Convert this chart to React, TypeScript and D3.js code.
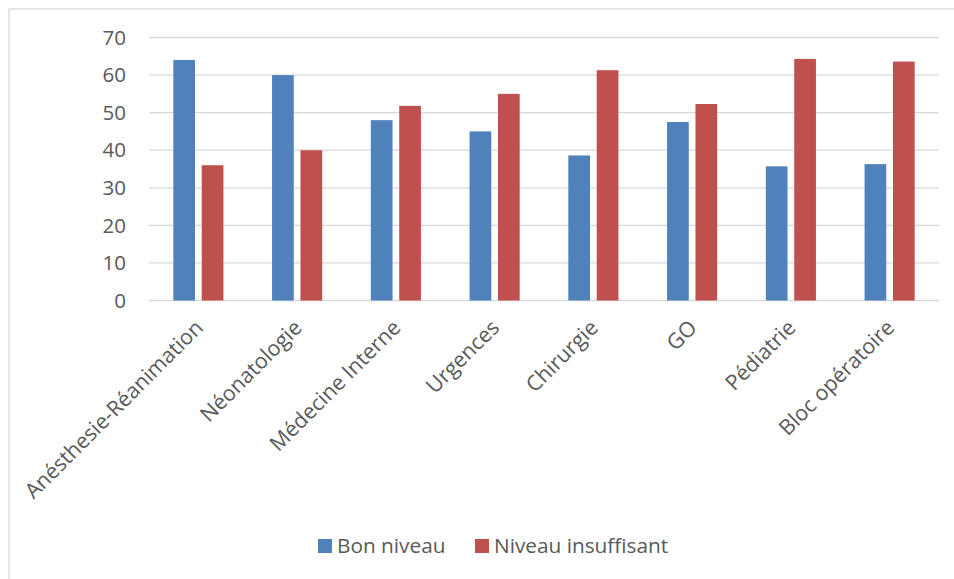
import React from "react";
import * as d3 from "d3";

const categories = [
  "Anésthesie-Réanimation",
  "Néonatologie",
  "Médecine Interne",
  "Urgences",
  "Chirurgie",
  "GO",
  "Pédiatrie",
  "Bloc opératoire",
];
const bonNiveau = [64, 60, 48, 45, 38.6, 47.5, 35.7, 36.3];
const niveauInsuffisant = [36, 40, 51.8, 55, 61.3, 52.3, 64.3, 63.6];
const yTicks = [0, 10, 20, 30, 40, 50, 60, 70];
const seriesNames = ["Bon niveau", "Niveau insuffisant"];
const colors = ["#4F81BD", "#C0504D"];

const W = 954;
const H = 579;
const left = 149;
const right = 939;
const top = 37.5;
const bottom = 300.5;
const font = "'Open Sans', sans-serif";
const textColor = "#595959";

export default function App() {
  const x = d3.scaleBand<string>().domain(categories).range([left, right]).paddingInner(0).paddingOuter(0);
  const y = d3.scaleLinear().domain([0, 70]).range([bottom, top]);
  const series = [bonNiveau, niveauInsuffisant];
  const bw = 21.7;
  const gap = 6.7;

  return (
    <svg width={W} height={H} style={{ position: "absolute", left: 0, top: 0, display: "block" }}>
      <rect x={0} y={0} width={W} height={H} fill="#fff" />
      <rect x={9} y={9} width={W + 20} height={H + 20} fill="#fff" stroke="#D9D9D9" strokeWidth={1.3} />
      {yTicks.map((t) => (
        <g key={t}>
          <line x1={left} x2={right} y1={y(t)} y2={y(t)} stroke="#D9D9D9" strokeWidth={1.3} />
          <text x={126} y={y(t)} dy="0.35em" textAnchor="end" fontFamily={font} fontSize={20.5} fill={textColor}>
            {t}
          </text>
        </g>
      ))}
      {categories.map((c, i) => {
        const cx = (x(c) as number) + x.bandwidth() / 2;
        return (
          <g key={c}>
            {series.map((s, k) => {
              const bx = k === 0 ? cx - gap / 2 - bw : cx + gap / 2;
              return (
                <rect
                  key={k}
                  x={bx}
                  y={y(s[i])}
                  width={bw}
                  height={y(0) - y(s[i])}
                  fill={colors[k]}
                />
              );
            })}
            <text
              transform={`translate(${cx + 6},${329}) rotate(-45)`}
              textAnchor="end"
              fontFamily={font}
              fontSize={21.3}
              fill={textColor}
            >
              {c}
            </text>
          </g>
        );
      })}
      {seriesNames.map((n, k) => {
        const lx = k === 0 ? 318 : 475;
        return (
          <g key={n}>
            <rect x={lx} y={539} width={14} height={14} fill={colors[k]} />
            <text x={lx + 19} y={546} dy="0.35em" fontFamily={font} fontSize={20.8} fill={textColor}>
              {n}
            </text>
          </g>
        );
      })}
    </svg>
  );
}
